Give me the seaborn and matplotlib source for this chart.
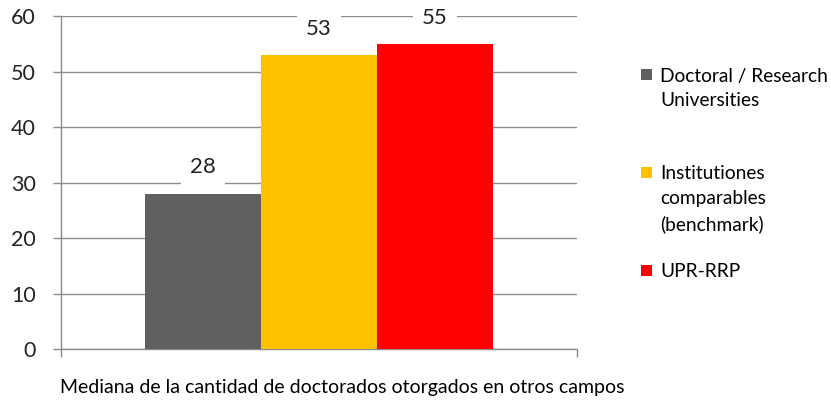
import matplotlib
matplotlib.use("Agg")
import matplotlib.pyplot as plt
from matplotlib.patches import Rectangle
import seaborn as sns
import pandas as pd

# Dati
grupos = ['Doctoral / Research\nUniversities',
          'Institutiones\ncomparables\n(benchmark)',
          'UPR-RRP']
valores = [28, 53, 55]
colores = ['#606060', '#FFC000', '#FF0000']
categoria = 'Mediana de la cantidad de doctorados otorgados en otros campos'

sns.set_theme(style="white")
plt.rcParams['font.family'] = ['Lato', 'DejaVu Sans']

COLOR_GRID = '#8C8C8C'
COLOR_TESTO = '#222222'

df = pd.DataFrame({'categoria': [categoria] * len(grupos),
                   'grupo': grupos,
                   'valor': valores})

fig = plt.figure(figsize=(8.31, 4.04), dpi=100)
ax = fig.add_axes([0.0734, 0.136, 0.6206, 0.824])

sns.barplot(data=df, x='categoria', y='valor', hue='grupo', hue_order=grupos,
            palette=colores, width=0.675, saturation=1, ax=ax, zorder=3,
            linewidth=0, edgecolor='none', legend=False)

ax.set_ylim(0, 60)
ax.set_xlim(-0.5, 0.5)
ax.set_yticks(range(0, 61, 10))
ax.yaxis.grid(True, color=COLOR_GRID, lw=1)
ax.set_axisbelow(True)
ax.set_xticks([-0.5, 0.5])
ax.set_xticklabels([])
ax.tick_params(axis='x', length=6, color=COLOR_GRID, width=1, direction='out', bottom=True)
ax.tick_params(axis='y', length=6, color=COLOR_GRID, width=1, direction='out', left=True,
               labelsize=15.5, labelcolor=COLOR_TESTO, pad=12)
for lato in ['top', 'right']:
    ax.spines[lato].set_visible(False)
for lato in ['left', 'bottom']:
    ax.spines[lato].set_color(COLOR_GRID)
    ax.spines[lato].set_linewidth(1)

ax.set_ylabel('')
ax.set_xlabel(categoria, fontsize=14, color='black', va='center')
ax.xaxis.set_label_coords(0.545, -0.114)

# Etichette sopra le barre, con sfondo bianco che interrompe la griglia
for barra in ax.patches:
    h = barra.get_height()
    if h == 0:
        continue
    ax.annotate(f'{h:.0f}', (barra.get_x() + barra.get_width() / 2, h),
                xytext=(0, 19), textcoords='offset points', ha='center', va='center',
                fontsize=16, color=COLOR_TESTO, zorder=5,
                bbox=dict(boxstyle='square,pad=0.4', fc='white', ec='none'))

# Legenda disegnata a mano: il quadratino è allineato alla prima riga come in Excel
baseline_px = [81, 179, 277]
interlinea_px = 25.5
for etichetta, colore, yb in zip(grupos, colores, baseline_px):
    n_righe = etichetta.count('\n') + 1
    yf = 1 - yb / 404
    fig.patches.append(Rectangle((641 / 831, yf + 1 / 404), 11 / 831, 11 / 404,
                                 transform=fig.transFigure, fc=colore, ec='none'))
    # va='baseline' aggancia l'ultima riga: sposto in basso di (n-1) righe
    y_ultima = 1 - (yb + (n_righe - 1) * interlinea_px) / 404
    fig.text(660 / 831, y_ultima, etichetta, fontsize=13.8, color='black',
             ha='left', va='baseline', linespacing=1.55)

fig.savefig('out.png', dpi=100)
